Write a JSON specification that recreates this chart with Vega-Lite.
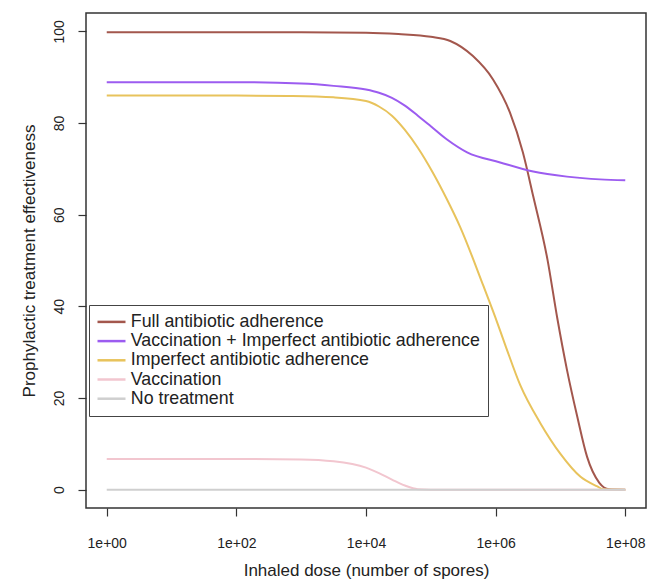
{
  "$schema": "https://vega.github.io/schema/vega-lite/v6.json",
  "width": 560,
  "height": 495,
  "autosize": {"type": "none"},
  "padding": {"left": 86, "top": 13, "right": 12, "bottom": 72},
  "background": "white",
  "config": {
    "font": "Liberation Sans",
    "view": {"stroke": "#333333", "strokeWidth": 1.5},
    "axis": {"grid": false, "domain": false, "tickColor": "#333333", "tickWidth": 1.2, "tickSize": 8, "labelColor": "#222222", "titleColor": "#222222", "labelFontSize": 14, "titleFontSize": 17, "titleFontWeight": "normal"}
  },
  "data": {"values": [
    {"dose": 1, "eff": 99.8, "treatment": "Full antibiotic adherence"},
    {"dose": 10, "eff": 99.8, "treatment": "Full antibiotic adherence"},
    {"dose": 100, "eff": 99.8, "treatment": "Full antibiotic adherence"},
    {"dose": 1000, "eff": 99.8, "treatment": "Full antibiotic adherence"},
    {"dose": 10000, "eff": 99.7, "treatment": "Full antibiotic adherence"},
    {"dose": 31623, "eff": 99.4, "treatment": "Full antibiotic adherence"},
    {"dose": 100000, "eff": 98.8, "treatment": "Full antibiotic adherence"},
    {"dose": 199526, "eff": 97.9, "treatment": "Full antibiotic adherence"},
    {"dose": 446684, "eff": 94.6, "treatment": "Full antibiotic adherence"},
    {"dose": 912011, "eff": 89.5, "treatment": "Full antibiotic adherence"},
    {"dose": 1659587, "eff": 82.3, "treatment": "Full antibiotic adherence"},
    {"dose": 2630268, "eff": 73.6, "treatment": "Full antibiotic adherence"},
    {"dose": 3801894, "eff": 64.0, "treatment": "Full antibiotic adherence"},
    {"dose": 6309573, "eff": 50.2, "treatment": "Full antibiotic adherence"},
    {"dose": 8912509, "eff": 37.5, "treatment": "Full antibiotic adherence"},
    {"dose": 12589254, "eff": 26.2, "treatment": "Full antibiotic adherence"},
    {"dose": 18197009, "eff": 15.9, "treatment": "Full antibiotic adherence"},
    {"dose": 25703958, "eff": 7.2, "treatment": "Full antibiotic adherence"},
    {"dose": 39810717, "eff": 1.5, "treatment": "Full antibiotic adherence"},
    {"dose": 56234133, "eff": 0.1, "treatment": "Full antibiotic adherence"},
    {"dose": 100000000, "eff": 0, "treatment": "Full antibiotic adherence"},

    {"dose": 1, "eff": 88.9, "treatment": "Vaccination + Imperfect antibiotic adherence"},
    {"dose": 10, "eff": 88.9, "treatment": "Vaccination + Imperfect antibiotic adherence"},
    {"dose": 100, "eff": 88.9, "treatment": "Vaccination + Imperfect antibiotic adherence"},
    {"dose": 1000, "eff": 88.6, "treatment": "Vaccination + Imperfect antibiotic adherence"},
    {"dose": 3162, "eff": 88.1, "treatment": "Vaccination + Imperfect antibiotic adherence"},
    {"dose": 10000, "eff": 87.3, "treatment": "Vaccination + Imperfect antibiotic adherence"},
    {"dose": 15849, "eff": 86.6, "treatment": "Vaccination + Imperfect antibiotic adherence"},
    {"dose": 25119, "eff": 85.5, "treatment": "Vaccination + Imperfect antibiotic adherence"},
    {"dose": 39811, "eff": 83.8, "treatment": "Vaccination + Imperfect antibiotic adherence"},
    {"dose": 63096, "eff": 81.6, "treatment": "Vaccination + Imperfect antibiotic adherence"},
    {"dose": 100000, "eff": 79.3, "treatment": "Vaccination + Imperfect antibiotic adherence"},
    {"dose": 177828, "eff": 76.4, "treatment": "Vaccination + Imperfect antibiotic adherence"},
    {"dose": 363078, "eff": 73.6, "treatment": "Vaccination + Imperfect antibiotic adherence"},
    {"dose": 1174898, "eff": 71.4, "treatment": "Vaccination + Imperfect antibiotic adherence"},
    {"dose": 3801894, "eff": 69.4, "treatment": "Vaccination + Imperfect antibiotic adherence"},
    {"dose": 12589254, "eff": 68.3, "treatment": "Vaccination + Imperfect antibiotic adherence"},
    {"dose": 40738028, "eff": 67.7, "treatment": "Vaccination + Imperfect antibiotic adherence"},
    {"dose": 100000000, "eff": 67.5, "treatment": "Vaccination + Imperfect antibiotic adherence"},

    {"dose": 1, "eff": 86.0, "treatment": "Imperfect antibiotic adherence"},
    {"dose": 10, "eff": 86.0, "treatment": "Imperfect antibiotic adherence"},
    {"dose": 100, "eff": 86.0, "treatment": "Imperfect antibiotic adherence"},
    {"dose": 631, "eff": 85.9, "treatment": "Imperfect antibiotic adherence"},
    {"dose": 3162, "eff": 85.6, "treatment": "Imperfect antibiotic adherence"},
    {"dose": 10000, "eff": 84.8, "treatment": "Imperfect antibiotic adherence"},
    {"dose": 15849, "eff": 83.6, "treatment": "Imperfect antibiotic adherence"},
    {"dose": 25119, "eff": 81.6, "treatment": "Imperfect antibiotic adherence"},
    {"dose": 39811, "eff": 78.5, "treatment": "Imperfect antibiotic adherence"},
    {"dose": 63096, "eff": 74.6, "treatment": "Imperfect antibiotic adherence"},
    {"dose": 107152, "eff": 69.2, "treatment": "Imperfect antibiotic adherence"},
    {"dose": 177828, "eff": 63.3, "treatment": "Imperfect antibiotic adherence"},
    {"dose": 281838, "eff": 57.4, "treatment": "Imperfect antibiotic adherence"},
    {"dose": 645654, "eff": 44.5, "treatment": "Imperfect antibiotic adherence"},
    {"dose": 977237, "eff": 37.8, "treatment": "Imperfect antibiotic adherence"},
    {"dose": 1412538, "eff": 31.5, "treatment": "Imperfect antibiotic adherence"},
    {"dose": 2398833, "eff": 22.8, "treatment": "Imperfect antibiotic adherence"},
    {"dose": 4897788, "eff": 14.5, "treatment": "Imperfect antibiotic adherence"},
    {"dose": 10000000, "eff": 7.8, "treatment": "Imperfect antibiotic adherence"},
    {"dose": 20417379, "eff": 2.8, "treatment": "Imperfect antibiotic adherence"},
    {"dose": 37153523, "eff": 0.7, "treatment": "Imperfect antibiotic adherence"},
    {"dose": 45708819, "eff": 0.1, "treatment": "Imperfect antibiotic adherence"},
    {"dose": 100000000, "eff": 0, "treatment": "Imperfect antibiotic adherence"},

    {"dose": 1, "eff": 6.7, "treatment": "Vaccination"},
    {"dose": 10, "eff": 6.7, "treatment": "Vaccination"},
    {"dose": 100, "eff": 6.7, "treatment": "Vaccination"},
    {"dose": 1000, "eff": 6.6, "treatment": "Vaccination"},
    {"dose": 3162, "eff": 6.2, "treatment": "Vaccination"},
    {"dose": 10000, "eff": 4.8, "treatment": "Vaccination"},
    {"dose": 15849, "eff": 3.6, "treatment": "Vaccination"},
    {"dose": 25119, "eff": 2.2, "treatment": "Vaccination"},
    {"dose": 39811, "eff": 0.9, "treatment": "Vaccination"},
    {"dose": 63096, "eff": 0.1, "treatment": "Vaccination"},
    {"dose": 100000, "eff": 0, "treatment": "Vaccination"},
    {"dose": 100000000, "eff": 0, "treatment": "Vaccination"},

    {"dose": 1, "eff": 0, "treatment": "No treatment"},
    {"dose": 10000, "eff": 0, "treatment": "No treatment"},
    {"dose": 100000000, "eff": 0, "treatment": "No treatment"}
  ]},
  "mark": {"type": "line", "strokeWidth": 2, "interpolate": "monotone"},
  "encoding": {
    "x": {
      "field": "dose", "type": "quantitative",
      "scale": {"type": "log", "domain": [0.4786, 208930000], "nice": false, "zero": false},
      "axis": {"values": [1, 100, 10000, 1000000, 100000000], "labelExpr": "'1e+0' + round(log(datum.value)/LN10)", "labelPadding": 20, "title": "Inhaled dose (number of spores)", "titlePadding": 12}
    },
    "y": {
      "field": "eff", "type": "quantitative",
      "scale": {"domain": [-4, 104], "nice": false, "zero": false},
      "axis": {"values": [0, 20, 40, 60, 80, 100], "labelAngle": -90, "labelAlign": "center", "labelBaseline": "bottom", "labelPadding": 12, "title": "Prophylactic treatment effectiveness", "titlePadding": 14}
    },
    "color": {
      "field": "treatment", "type": "nominal",
      "scale": {
        "domain": ["Full antibiotic adherence", "Vaccination + Imperfect antibiotic adherence", "Imperfect antibiotic adherence", "Vaccination", "No treatment"],
        "range": ["#a3574d", "#9c5cf0", "#e8c35c", "#f2c6cf", "#cfcfcf"]
      },
      "legend": {
        "title": null, "orient": "none", "legendX": 3, "legendY": 292,
        "symbolType": "M-1.2,0H2.8", "symbolSize": 196, "symbolStrokeWidth": 2.5,
        "labelFontSize": 17.8, "labelColor": "#222222", "labelOffset": 16, "rowPadding": 0.2,
        "padding": 8, "strokeColor": "#444444", "fillColor": "white", "labelLimit": 500
      }
    },
    "order": {"field": "dose", "type": "quantitative"}
  }
}
